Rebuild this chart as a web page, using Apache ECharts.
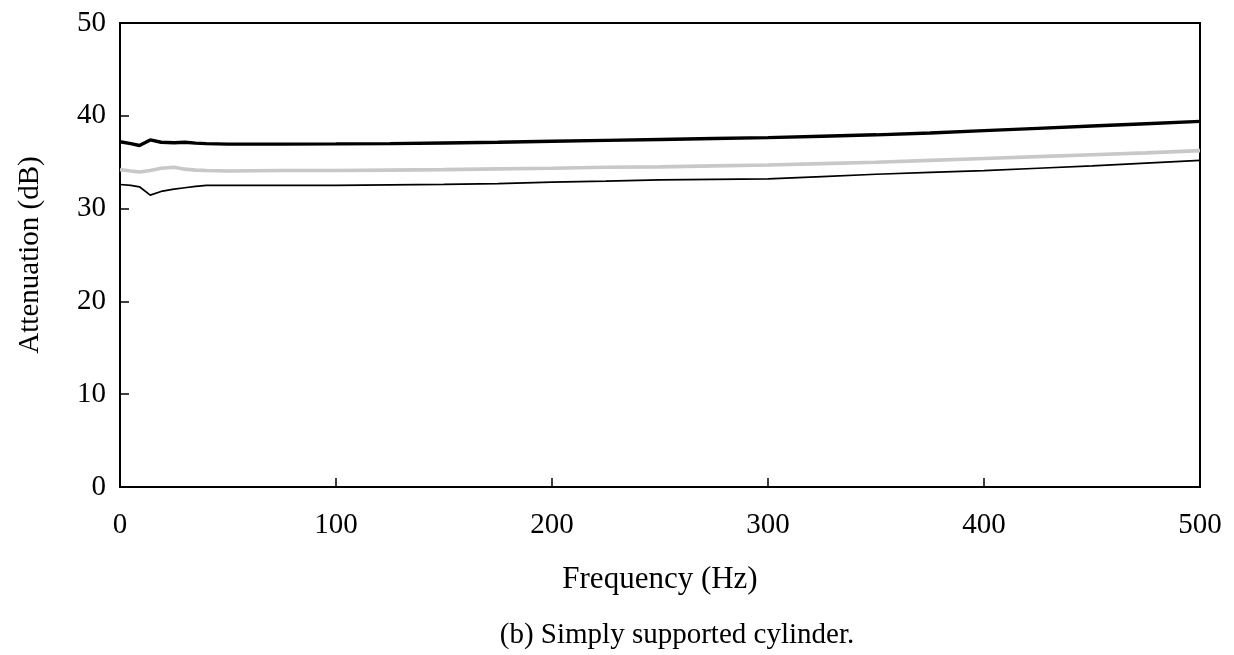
<!DOCTYPE html>
<html>
<head>
<meta charset="utf-8">
<script src="https://cdn.jsdelivr.net/npm/echarts@6/dist/echarts.min.js"></script>
<style>
  html, body { margin: 0; padding: 0; background: #fff; }
  #chart { width: 1234px; height: 655px; }
</style>
</head>
<body>
<div id="chart"></div>
<script>
// Frequency samples (Hz)
const frequency = [0, 5, 9, 14, 19, 25, 30, 35, 40, 50, 75, 100, 125, 150, 175, 200, 225, 250, 275, 300, 325, 350, 375, 400, 425, 450, 475, 500];

// Attenuation curves (dB)
const upperCurve = [37.2, 37.0, 36.8, 37.4, 37.15, 37.1, 37.15, 37.05, 37.0, 36.95, 36.95, 36.97, 37.0, 37.07, 37.15, 37.25, 37.35, 37.45, 37.55, 37.65, 37.8, 37.95, 38.15, 38.4, 38.65, 38.9, 39.15, 39.4];
const middleCurve = [34.2, 34.05, 33.95, 34.1, 34.35, 34.45, 34.25, 34.15, 34.1, 34.05, 34.1, 34.1, 34.15, 34.2, 34.28, 34.35, 34.45, 34.5, 34.6, 34.7, 34.85, 35.0, 35.2, 35.4, 35.6, 35.8, 36.0, 36.25];
const lowerCurve = [32.6, 32.5, 32.35, 31.45, 31.85, 32.1, 32.25, 32.4, 32.5, 32.5, 32.5, 32.5, 32.55, 32.6, 32.7, 32.85, 32.95, 33.1, 33.15, 33.2, 33.45, 33.7, 33.9, 34.1, 34.35, 34.6, 34.9, 35.2];

const xTicks = [0, 100, 200, 300, 400, 500];
const yTicks = [0, 10, 20, 30, 40, 50];

const font = 'Liberation Serif, Times New Roman, serif';
const pair = (ys) => frequency.map((f, i) => [f, ys[i]]);

const chart = echarts.init(document.getElementById('chart'));
chart.setOption({
  backgroundColor: '#fff',
  animation: false,
  textStyle: { fontFamily: font },
  grid: {
    left: 120, right: 34, top: 23, bottom: 168,
    show: true, borderColor: '#000', borderWidth: 2, backgroundColor: 'transparent'
  },
  title: {
    text: '(b) Simply supported cylinder.',
    left: 672, textAlign: 'center', top: 616,
    textStyle: { fontFamily: font, fontSize: 29, fontWeight: 'normal', color: '#000' }
  },
  xAxis: {
    type: 'value',
    min: xTicks[0], max: xTicks[xTicks.length - 1], interval: 100,
    name: 'Frequency (Hz)', nameLocation: 'middle', nameGap: 77,
    nameTextStyle: { fontFamily: font, fontSize: 31, color: '#000' },
    axisLine: { show: true, lineStyle: { color: '#000', width: 2 } },
    axisTick: { show: true, inside: true, length: 9, lineStyle: { color: '#000', width: 1.5 } },
    axisLabel: { fontFamily: font, fontSize: 29, color: '#000', margin: 24 },
    splitLine: { show: false }
  },
  yAxis: {
    type: 'value',
    min: yTicks[0], max: yTicks[yTicks.length - 1], interval: 10,
    name: 'Attenuation (dB)', nameLocation: 'middle', nameGap: 75,
    nameTextStyle: { fontFamily: font, fontSize: 29, color: '#000' },
    axisLine: { show: true, lineStyle: { color: '#000', width: 2 } },
    axisTick: { show: true, inside: true, length: 9, lineStyle: { color: '#000', width: 1.5 } },
    axisLabel: { fontFamily: font, fontSize: 29, color: '#000', margin: 14 },
    splitLine: { show: false }
  },
  series: [
    {
      type: 'line', data: pair(upperCurve), showSymbol: false,
      lineStyle: { color: '#000', width: 3.4 }
    },
    {
      type: 'line', data: pair(middleCurve), showSymbol: false,
      lineStyle: { color: '#c8c8c8', width: 3.6 }
    },
    {
      type: 'line', data: pair(lowerCurve), showSymbol: false,
      lineStyle: { color: '#000', width: 1.7 }
    }
  ]
});
</script>
</body>
</html>
